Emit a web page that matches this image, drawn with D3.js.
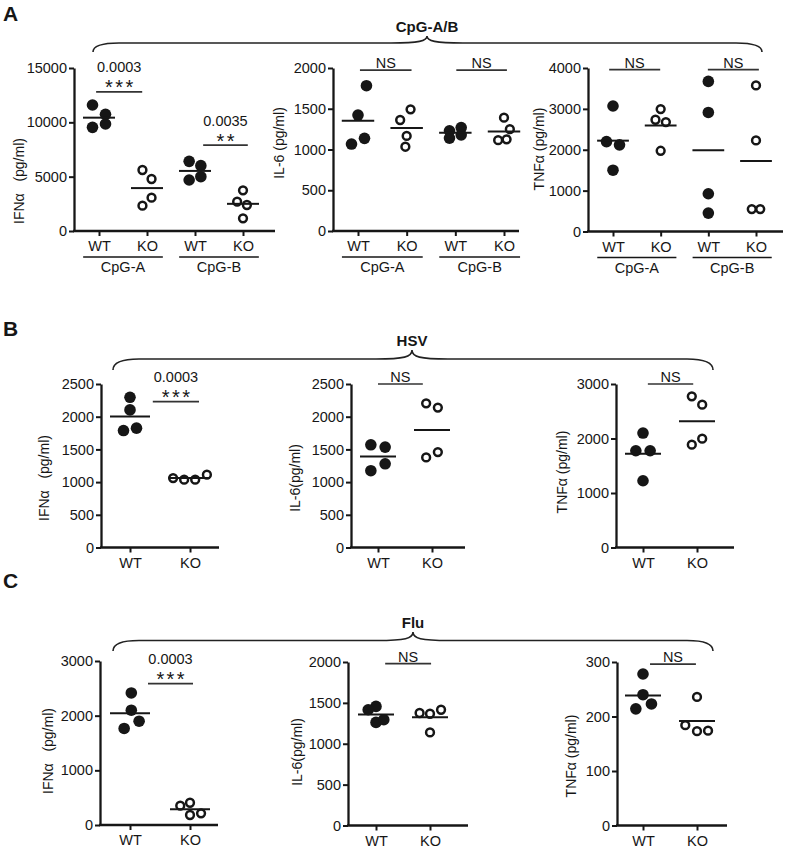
<!DOCTYPE html>
<html><head><meta charset="utf-8">
<script src="https://cdn.jsdelivr.net/npm/d3@7"></script>
<style>
body{margin:0;background:#fff}
svg{display:block}
text{font-family:"Liberation Sans",Arial,Helvetica,sans-serif;fill:#161616}
</style>
</head><body>
<svg id="c" width="785" height="849"></svg>
<script>
// ---------------- DATA ----------------
const groupsA = ["WT","KO","WT","KO"];
const stimA = ["CpG-A","CpG-B"];
const groupsBC = ["WT","KO"];
const rowTitles = ["CpG-A/B","HSV","Flu"];
const panelLetters = ["A","B","C"];

// Row A: CpG-A / CpG-B (WT, KO, WT, KO)
const A_IFN  = [[11595,10737,9540,9847],[5613,4785,3067,2331],[6410,6012,4693,4997],[3742,2699,2393,1166]];
const A_IL6  = [[1783,1423,1137,1067],[1493,1362,1166,1034],[1230,1270,1140,1180],[1390,1250,1115,1125]];
const A_TNF  = [[3070,2200,2120,1500],[2996,2734,2678,1975],[3672,2913,923,450],[3574,2228,548,548]];
// Row B: HSV
const B_IFN  = [[2297,2104,1788,1825],[1062,1037,1037,1113]];
const B_IL6  = [[1570,1535,1280,1174],[2205,2139,1377,1459]];
const B_TNF  = [[2100,1775,1775,1225],[2773,2620,1886,1996]];
// Row C: Flu
const C_IFN  = [[2416,2100,1899,1766],[353,407,183,213]];
const C_IL6  = [[1457,1416,1261,1294],[1376,1367,1416,1138]];
const C_TNF  = [[278,240,214,223],[236,184,173,174]];

// horizontal spread of overlapping points (dimensionless, as in the scatter)
const A_IFN_spread = [[-1,1,-1,1],[-0.7,0.7,0.7,-0.7],[-0.9,0.9,-0.9,0.9],[0,-0.9,0.6,0]];
const A_IL6_spread = [[1.3,0,1,-1],[0.6,-1,0,-0.2],[-0.9,0.9,-0.9,0.9],[0,0.9,-0.9,0.4]];
const A_TNF_spread = [[0,-1,1,0],[0,-0.8,0.8,0],[0,0,0,0],[0,0,-0.65,0.65]];
const B_IFN_spread = [[0,0,-1,1],[-2.6,-0.9,0.8,2.6]];
const B_IL6_spread = [[-1.1,1.1,1.1,-1.1],[-0.9,0.9,-0.9,0.9]];
const B_TNF_spread = [[0,-1.1,1.1,0],[-0.8,0.8,-0.8,0.8]];
const C_IFN_spread = [[0.2,0.2,1.4,-0.9],[-1.5,0,0,1.7]];
const C_IL6_spread = [[0,-1.2,0,1.2],[-1.6,0,1.7,0]];
const C_TNF_spread = [[0,0,-1.1,1.3],[0,-1.8,0,1.7]];

// y-axis ticks
const ticksA_IFN = [0,5000,10000,15000];
const ticksA_IL6 = [0,500,1000,1500,2000];
const ticksA_TNF = [0,1000,2000,3000,4000];
const ticksB_IFN = [0,500,1000,1500,2000,2500];
const ticksB_IL6 = [0,500,1000,1500,2000,2500];
const ticksB_TNF = [0,1000,2000,3000];
const ticksC_IFN = [0,1000,2000,3000];
const ticksC_IL6 = [0,500,1000,1500,2000];
const ticksC_TNF = [0,100,200,300];

// significance annotations: [from category, to category, value, p text, mark]
const sigA_IFN = [[-0.06,0.9,12800,"0.0003","***"],[2.17,3.1,7900,"0.0035","**"]];
const sigA_IL6 = [[0.04,1.1,1975,"","NS"],[2.02,3.06,1975,"","NS"]];
const sigA_TNF = [[-0.08,0.99,3960,"","NS"],[1.99,3.06,3960,"","NS"]];
const sigB_IFN = [[0.38,1.15,2230,"0.0003","***"]];
const sigB_IL6 = [[0,0.83,2500,"","NS"]];
const sigB_TNF = [[0.09,0.93,3000,"","NS"]];
const sigC_IFN = [[0.3,1.05,2587,"0.0003","***"]];
const sigC_IL6 = [[0.17,1.02,1979,"","NS"]];
const sigC_TNF = [[0.13,0.98,296,"","NS"]];

// ---------------- DRAW ----------------
const svg = d3.select("#c");
const INK = "#161616";

function panel(p){
  const g = svg.append("g");
  const n = p.cats.length;
  const x = d3.scaleLinear().domain([0,n-1]).range([p.c0,p.c1]);
  const y = d3.scaleLinear().domain([0,p.max]).range([p.bottom,p.top]);
  const step = (p.c1-p.c0)/(n-1);
  const u = 6.5;

  // y axis
  const ya = g.append("g").attr("transform",`translate(${p.left},0)`)
    .call(d3.axisLeft(y).tickValues(p.ticks).tickSize(5).tickSizeOuter(0).tickPadding(2).tickFormat(d3.format("d")));
  ya.attr("font-family",null).attr("font-size",null);
  ya.select(".domain").attr("stroke",INK).attr("stroke-width",2.3);
  ya.selectAll(".tick line").attr("stroke",INK).attr("stroke-width",2);
  ya.selectAll(".tick text").attr("font-size",14.5).attr("fill",INK);

  // x axis
  g.append("line").attr("x1",p.left-1).attr("x2",p.right).attr("y1",y(0)).attr("y2",y(0))
    .attr("stroke",INK).attr("stroke-width",2.3);
  const xa = g.append("g").attr("transform",`translate(0,${y(0)})`)
    .call(d3.axisBottom(x).tickValues(d3.range(n)).tickSize(5).tickSizeOuter(0).tickPadding(5).tickFormat(i=>p.cats[i]));
  xa.attr("font-family",null).attr("font-size",null);
  xa.select(".domain").remove();
  xa.selectAll(".tick line").attr("stroke",INK).attr("stroke-width",2);
  xa.selectAll(".tick text").attr("font-size",14.5).attr("fill",INK);

  // stimulus group underlines
  if(p.stims){
    p.stims.forEach((s,k)=>{
      const cx = (x(2*k)+x(2*k+1))/2, hw = step*0.83;
      g.append("line").attr("x1",cx-hw).attr("x2",cx+hw).attr("y1",y(0)+26).attr("y2",y(0)+26)
        .attr("stroke",INK).attr("stroke-width",1.6);
      g.append("text").attr("x",cx).attr("y",y(0)+41).attr("text-anchor","middle").attr("font-size",14.5).text(s);
    });
  }

  // y title
  g.append("text").attr("transform",`translate(${p.tx},${p.ty}) rotate(-90)`)
    .attr("text-anchor","middle").attr("dominant-baseline","central")
    .attr("font-size",14).style("white-space","pre").text(p.title);

  // points
  p.values.forEach((vals,i)=>{
    const filled = p.cats[i]==="WT";
    g.selectAll(null).data(vals.map((v,j)=>({v,s:p.spread[i][j]}))).join("circle")
      .attr("cx",d=>x(i)+d.s*u).attr("cy",d=>y(d.v))
      .attr("r",filled?5.8:3.9)
      .attr("fill",filled?INK:"#fff")
      .attr("stroke",INK).attr("stroke-width",filled?0:2.5);
    const m = d3.mean(vals);
    g.append("line").attr("x1",x(i)-step/3).attr("x2",x(i)+step/3).attr("y1",y(m)).attr("y2",y(m))
      .attr("stroke",INK).attr("stroke-width",2);
  });

  // significance
  p.sig.forEach(([a,b,v,pt,mark])=>{
    const yy = y(v), x1 = x(a), x2 = x(b), cx=(x1+x2)/2;
    g.append("line").attr("x1",x1).attr("x2",x2).attr("y1",yy).attr("y2",yy)
      .attr("stroke","#333").attr("stroke-width",1.7);
    if(mark==="NS"){
      g.append("text").attr("x",cx).attr("y",yy-1.8).attr("text-anchor","middle").attr("font-size",14.5).text("NS");
    } else {
      g.append("text").attr("x",cx).attr("y",yy-19.5).attr("text-anchor","middle").attr("font-size",14.5).text(pt);
      g.append("text").attr("x",cx+1.2).attr("y",yy+2.5).attr("text-anchor","middle")
        .attr("font-size",20).attr("letter-spacing",2.4).text(mark);
    }
  });
}

function brace(b){
  const r = 26, r2 = 36;
  const d = `M${b.x0},${b.yEnd} Q${b.x0},${b.yLine} ${b.x0+r},${b.yLine} L${b.xm-r2},${b.yLine} ` +
    `C${b.xm-8},${b.yLine} ${b.xm},${b.yLine-2} ${b.xm},${b.yTip} ` +
    `C${b.xm},${b.yLine-2} ${b.xm+8},${b.yLine} ${b.xm+r2},${b.yLine} ` +
    `L${b.x1-r},${b.yLine} Q${b.x1},${b.yLine} ${b.x1},${b.yEnd}`;
  svg.append("path").attr("d",d).attr("fill","none").attr("stroke","#222").attr("stroke-width",1.6);
  svg.append("text").attr("x",b.xm).attr("y",b.yTip-4).attr("text-anchor","middle")
    .attr("font-size",15).attr("font-weight","bold").text(b.title);
}

// panel letters
[[3,21],[3,336],[3,588]].forEach(([lx,ly],i)=>{
  svg.append("text").attr("x",lx).attr("y",ly).attr("font-size",21).attr("font-weight","bold").text(panelLetters[i]);
});

brace({x0:93,x1:762,xm:427,yLine:43,yEnd:52,yTip:36,title:rowTitles[0]});
brace({x0:113,x1:713,xm:412,yLine:359,yEnd:370,yTip:350,title:rowTitles[1]});
brace({x0:113,x1:713,xm:413,yLine:640.5,yEnd:651,yTip:632,title:rowTitles[2]});

// Row A
panel({cats:groupsA,stims:stimA,values:A_IFN,spread:A_IFN_spread,ticks:ticksA_IFN,max:15000,sig:sigA_IFN,
  left:74,right:275,top:68,bottom:231,c0:99,c1:243,title:"IFNα   (pg/ml)",tx:19,ty:181});
panel({cats:groupsA,stims:stimA,values:A_IL6,spread:A_IL6_spread,ticks:ticksA_IL6,max:2000,sig:sigA_IL6,
  left:333,right:519,top:68,bottom:231,c0:358,c1:504,title:"IL-6 (pg/ml)",tx:278.5,ty:143});
panel({cats:groupsA,stims:stimA,values:A_TNF,spread:A_TNF_spread,ticks:ticksA_TNF,max:4000,sig:sigA_TNF,
  left:588,right:783,top:68,bottom:231.5,c0:613,c1:756,title:"TNFα (pg/ml)",tx:539,ty:149});
// Row B
panel({cats:groupsBC,values:B_IFN,spread:B_IFN_spread,ticks:ticksB_IFN,max:2500,sig:sigB_IFN,
  left:101,right:219,top:384,bottom:547.5,c0:130,c1:190,title:"IFNα   (pg/ml)",tx:44,ty:478});
panel({cats:groupsBC,values:B_IL6,spread:B_IL6_spread,ticks:ticksB_IL6,max:2500,sig:sigB_IL6,
  left:351,right:465,top:384,bottom:547.5,c0:378,c1:432,title:"IL-6(pg/ml)",tx:295,ty:478});
panel({cats:groupsBC,values:B_TNF,spread:B_TNF_spread,ticks:ticksB_TNF,max:3000,sig:sigB_TNF,
  left:616,right:734,top:384,bottom:547.5,c0:643,c1:697,title:"TNFα (pg/ml)",tx:562,ty:472});
// Row C
panel({cats:groupsBC,values:C_IFN,spread:C_IFN_spread,ticks:ticksC_IFN,max:3000,sig:sigC_IFN,
  left:100,right:218,top:661,bottom:825,c0:130,c1:190,title:"IFNα   (pg/ml)",tx:47.5,ty:751});
panel({cats:groupsBC,values:C_IL6,spread:C_IL6_spread,ticks:ticksC_IL6,max:2000,sig:sigC_IL6,
  left:348,right:468,top:662,bottom:825.5,c0:376,c1:430,title:"IL-6(pg/ml)",tx:297,ty:752});
panel({cats:groupsBC,values:C_TNF,spread:C_TNF_spread,ticks:ticksC_TNF,max:300,sig:sigC_TNF,
  left:617,right:727,top:662,bottom:825.5,c0:643,c1:697,title:"TNFα (pg/ml)",tx:571,ty:756});
</script>
</body></html>
